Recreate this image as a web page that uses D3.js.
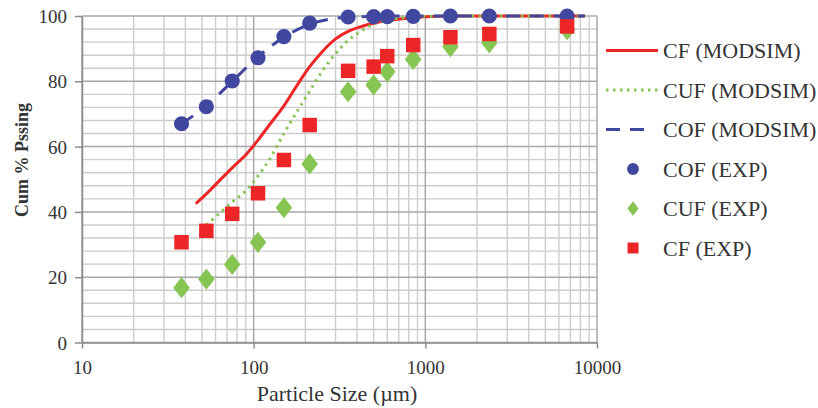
<!DOCTYPE html>
<html><head><meta charset="utf-8">
<script src="https://cdn.jsdelivr.net/npm/d3@7"></script>
<style>body{margin:0;background:#fff} svg{display:block}</style>
</head><body><svg id="c" width="818" height="408"></svg>
<script>
// Experimental data (sieve sizes, µm)
const expSizes = [38, 53, 75, 106, 150, 212, 355, 500, 600, 850, 1400, 2360, 6700];
const cofExp = [67, 72.2, 80.1, 87.2, 93.7, 97.8, 99.7, 99.8, 99.8, 99.9, 100, 100, 100];
const cufExp = [16.8, 19.4, 23.9, 30.7, 41.3, 54.7, 76.8, 78.9, 82.9, 86.7, 90.6, 91.8, 95.8];
const cfExp  = [30.7, 34.2, 39.4, 45.7, 55.9, 66.6, 83.2, 84.5, 87.7, 91.1, 93.5, 94.5, 96.8];

// MODSIM model curves
const cfModelSizes = [46, 53, 63, 75, 90, 106, 125, 150, 180, 212, 250, 300, 355, 425, 500, 600, 710, 850, 1000, 1400, 2000, 3000, 5000, 8500];
const cfModel = [42.5, 45.5, 49.5, 53.5, 57.5, 62, 67, 72.5, 79, 84.5, 89, 93, 95.3, 96.8, 97.8, 98.6, 99.1, 99.5, 99.8, 100, 100, 100, 100, 100];
const cufModelSizes = [53, 63, 75, 90, 106, 125, 150, 180, 212, 250, 300, 355, 425, 500, 600, 710, 850, 1000, 1400, 2000, 3000, 5000, 8500];
const cufModel = [36, 39.5, 43, 46.5, 51, 56.5, 64, 71, 77, 83, 88.5, 92.5, 95.5, 97.5, 98.8, 99.3, 99.7, 99.9, 100, 100, 100, 100, 100];
const cofModelSizes = [38, 53, 75, 106, 150, 212, 300, 425, 600, 1000, 2000, 5000, 8500];
const cofModel = [67, 72.5, 80, 87.5, 93.5, 97.5, 99.3, 99.8, 100, 100, 100, 100, 100];

const xTicks = [10, 100, 1000, 10000];
const yTicks = [0, 20, 40, 60, 80, 100];
const legendLabels = ["CF (MODSIM)", "CUF (MODSIM)", "COF (MODSIM)", "COF (EXP)", "CUF (EXP)", "CF (EXP)"];

const RED = "#ec2626", GREEN = "#86c552", BLUE = "#3f479f";
const svg = d3.select("#c");
const x = d3.scaleLog().domain([10, 10000]).range([82, 597]);
const y = d3.scaleLinear().domain([0, 100]).range([342.5, 16]);
const font = "'Liberation Serif', 'Times New Roman', serif";

// grid
const g = svg.append("g");
const minorX = [];
for (let d = 10; d < 10000; d *= 10) for (let k = 2; k <= 9; k++) minorX.push(d * k);
g.selectAll(".vx").data(minorX).enter().append("line")
  .attr("x1", d => x(d)).attr("x2", d => x(d)).attr("y1", y(0)).attr("y2", y(100))
  .attr("stroke", "#cdcdcd").attr("stroke-width", 1.4);
const minorY = d3.range(0, 101, 4).filter(v => v % 20 !== 0);
g.selectAll(".hy").data(minorY).enter().append("line")
  .attr("x1", x(10)).attr("x2", x(10000)).attr("y1", d => y(d)).attr("y2", d => y(d))
  .attr("stroke", "#cdcdcd").attr("stroke-width", 1.4);
g.selectAll(".vX").data(xTicks).enter().append("line")
  .attr("x1", d => x(d)).attr("x2", d => x(d)).attr("y1", y(0)).attr("y2", y(100))
  .attr("stroke", "#a8a8a8").attr("stroke-width", 1.5);
g.selectAll(".hY").data(yTicks).enter().append("line")
  .attr("x1", x(10)).attr("x2", x(10000)).attr("y1", d => y(d)).attr("y2", d => y(d))
  .attr("stroke", "#a8a8a8").attr("stroke-width", 1.5);

// axes
const xAxis = svg.append("g").attr("transform", `translate(0,${y(0)})`)
  .call(d3.axisBottom(x).tickValues(xTicks).tickFormat(d3.format("d")).tickSize(6).tickSizeOuter(0));
const yAxis = svg.append("g").attr("transform", `translate(${x(10)},0)`)
  .call(d3.axisLeft(y).tickValues(yTicks).tickSize(7).tickSizeOuter(0));
[xAxis, yAxis].forEach(a => {
  a.select(".domain").attr("stroke", "#8c8c8c").attr("stroke-width", 1.5);
  a.selectAll(".tick line").attr("stroke", "#8c8c8c").attr("stroke-width", 1.5);
  a.selectAll("text").attr("font-family", font).attr("font-size", 19).attr("fill", "#333");
});
xAxis.selectAll("text").attr("dy", "0").attr("y", 31);
yAxis.selectAll("text").attr("x", -15).attr("dy", "0.35em");

// model lines
const line = d3.line().x(d => x(d[0])).y(d => y(d[1])).curve(d3.curveMonotoneX);
const zip = (a, b) => a.map((v, i) => [v, b[i]]);
svg.append("path").datum(zip(cfModelSizes, cfModel)).attr("d", line)
  .attr("fill", "none").attr("stroke", RED).attr("stroke-width", 3);
svg.append("path").datum(zip(cufModelSizes, cufModel)).attr("d", line)
  .attr("fill", "none").attr("stroke", GREEN).attr("stroke-width", 3)
  .attr("stroke-dasharray", "2.5,4.5");
svg.append("path").datum(zip(cofModelSizes, cofModel)).attr("d", line)
  .attr("fill", "none").attr("stroke", BLUE).attr("stroke-width", 3)
  .attr("stroke-dasharray", "14,10");

// markers
const sym = (type, size) => d3.symbol().type(type).size(size)();
svg.append("g").selectAll("path").data(zip(expSizes, cofExp)).enter().append("path")
  .attr("d", sym(d3.symbolCircle, 180)).attr("fill", BLUE)
  .attr("transform", d => `translate(${x(d[0])},${y(d[1])})`);
svg.append("g").selectAll("path").data(zip(expSizes, cufExp)).enter().append("path")
  .attr("d", sym(d3.symbolDiamond, 130)).attr("fill", GREEN)
  .attr("transform", d => `translate(${x(d[0])},${y(d[1])}) scale(1.35,1)`);
svg.append("g").selectAll("path").data(zip(expSizes, cfExp)).enter().append("path")
  .attr("d", sym(d3.symbolSquare, 210)).attr("fill", RED)
  .attr("transform", d => `translate(${x(d[0])},${y(d[1])})`);

// axis titles
svg.append("text").attr("x", 337).attr("y", 401).attr("text-anchor", "middle")
  .attr("font-family", font).attr("font-size", 22).attr("fill", "#333")
  .text("Particle Size (µm)");
svg.append("text").attr("transform", "translate(28,160) rotate(-90)").attr("text-anchor", "middle")
  .attr("font-family", font).attr("font-size", 18).attr("font-weight", "bold").attr("fill", "#333")
  .text("Cum % Pssing");

// legend
const leg = svg.append("g");
const ly = i => 50.5 + i * 39.5;
const styles = [
  {stroke: RED, dash: null},
  {stroke: GREEN, dash: "2.5,4.5"},
  {stroke: BLUE, dash: "14,10,14,40"}
];
styles.forEach((s, i) => {
  leg.append("line").attr("x1", 606).attr("x2", 658).attr("y1", ly(i)).attr("y2", ly(i))
    .attr("stroke", s.stroke).attr("stroke-width", 3).attr("stroke-dasharray", s.dash);
});
leg.append("path").attr("d", sym(d3.symbolCircle, 110)).attr("fill", BLUE)
  .attr("transform", `translate(633,${ly(3)})`);
leg.append("path").attr("d", sym(d3.symbolDiamond, 60)).attr("fill", GREEN)
  .attr("transform", `translate(633,${ly(4)}) scale(1.35,1)`);
leg.append("path").attr("d", sym(d3.symbolSquare, 120)).attr("fill", RED)
  .attr("transform", `translate(633,${ly(5)})`);
leg.selectAll("text").data(legendLabels).enter().append("text")
  .attr("x", 663).attr("y", (d, i) => ly(i)).attr("dy", "0.35em")
  .attr("font-family", font).attr("font-size", 22).attr("fill", "#333")
  .text(d => d);
</script></body></html>
